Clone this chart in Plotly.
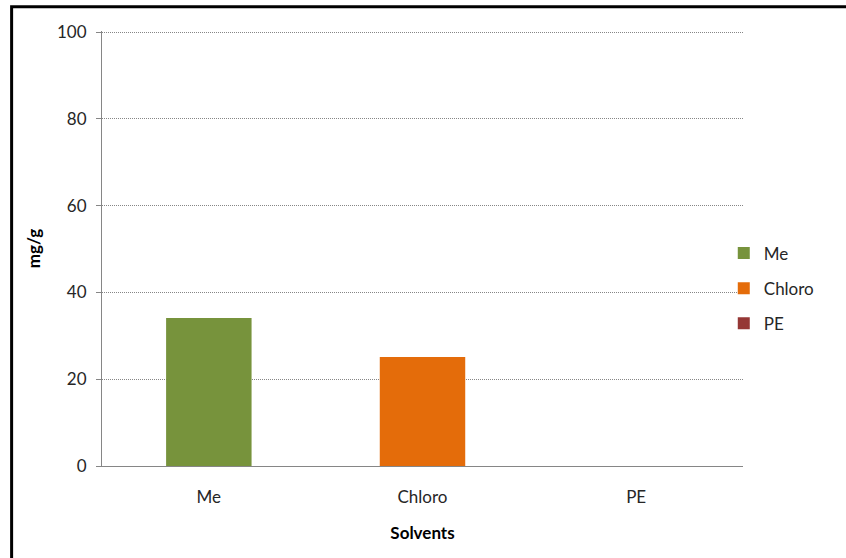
import plotly.graph_objects as go

categories = ["Me", "Chloro", "PE"]
values = [34.1, 25.1, 0]
colors = ["#77933C", "#E46C0A", "#953735"]
y_ticks = [0, 20, 40, 60, 80, 100]

FONT = "Lato, 'Open Sans', sans-serif"

fig = go.Figure()
for cat, val, col in zip(categories, values, colors):
    fig.add_trace(go.Bar(
        x=[cat], y=[val], name=cat, marker=dict(color=col, line=dict(width=0)),
        legendgroup=cat, hoverinfo="x+y",
    ))

fig.update_layout(
    width=846, height=558,
    margin=dict(l=102, r=103, t=31, b=92),
    paper_bgcolor="white", plot_bgcolor="white",
    barmode="overlay", bargap=0.6,
    font=dict(family=FONT, size=17, color="#404040"),
    showlegend=True,
    legend=dict(
        x=0.97, xanchor="left", y=0.408, yanchor="middle",
        traceorder="grouped", tracegroupgap=10,
        bgcolor="rgba(0,0,0,0)",
        font=dict(family=FONT, size=17, color="#262626"),
        itemwidth=30,
    ),
    xaxis=dict(
        categoryorder="array", categoryarray=categories,
        showline=True, linecolor="#868686", linewidth=1,
        ticks="", showgrid=False, ticklabelstandoff=16,
        tickfont=dict(family=FONT, size=17, color="#262626"),
        title=dict(text="<b>Solvents</b>", standoff=20,
                   font=dict(family=FONT, size=17, color="#000000")),
    ),
    yaxis=dict(
        range=[0, 100.25], tickvals=y_ticks,
        showline=True, linecolor="#868686", linewidth=1,
        ticks="outside", ticklen=5, tickcolor="#868686",
        ticklabelstandoff=6,
        showgrid=True, gridcolor="#868686", griddash="1px,1px", gridwidth=1,
        zeroline=False,
        tickfont=dict(family=FONT, size=17, color="#262626"),
        title=dict(text="<b>mg/g</b>", standoff=12,
                   font=dict(family=FONT, size=17, color="#000000")),
    ),
    shapes=[dict(
        type="rect", xref="paper", yref="paper",
        x0=-0.141, x1=1.4, y0=-0.4, y1=1.056,
        line=dict(color="black", width=3), fillcolor="rgba(0,0,0,0)",
        layer="above",
    )],
)

fig.write_html("out.html")
